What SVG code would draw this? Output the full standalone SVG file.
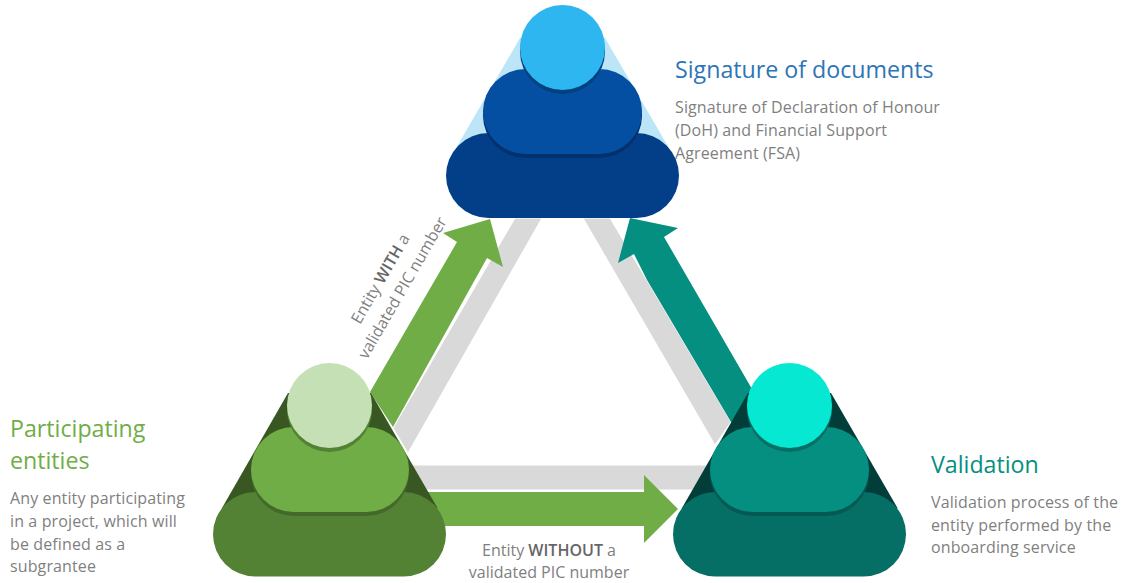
<svg xmlns="http://www.w3.org/2000/svg" width="1125" height="583" viewBox="0 0 1125 583">
<style>
text{font-family:"Open Sans","Noto Sans","Liberation Sans",sans-serif}
.body{font-size:16px;fill:#7f7f7f;letter-spacing:.12px}
.lab{font-size:16px;fill:#7f7f7f}
.head{font-size:23.200px}
.gray{fill:#d9d9d9;stroke:#fff;stroke-width:1}
.b{font-weight:600;fill:#666}
</style>
<rect width="1125" height="583" fill="#fff"/>
<g id="connectors">
<polygon class="gray" points="515,218 542,218 408,453 393,428"/>
<polygon class="gray" points="583,218 610,218 731,422 715,445"/>
<polygon class="gray" points="410,465 720,465 720,490 410,490"/>
<polygon fill="#70ad47" points="370,392 457,242 443,233 490,219 503,267 487,258 393,427"/>
<polygon fill="#058f80" points="731,422 647,280 634,254 618,263 630,218 678,228 664,237 770,420"/>
<polygon fill="#70ad47" points="420,492 644,492 644,475 678,509 644,543 644,526 420,526"/>
</g>
<g id="node-signature">
<polygon fill="#bde5f8" points="520,38 605,38 669.500,149 455.500,149"/>
<rect x="446" y="133" width="233" height="85" rx="42.500" fill="#033f88"/>
<rect x="483" y="73" width="159" height="85" rx="42.500" fill="#03316d"/>
<rect x="483" y="69" width="159" height="85" rx="42.500" fill="#054fa3"/>
<circle cx="562.500" cy="51.500" r="42.500" fill="#03407f"/>
<circle cx="562.500" cy="47.500" r="42.500" fill="#2db6f0"/>
</g>
<g id="node-participating">
<polygon fill="#385723" points="288,393 371,393 437.500,508 222,508"/>
<rect x="213" y="492" width="233" height="84.500" rx="42.250" fill="#548235"/>
<rect x="251" y="431" width="158" height="85" rx="42.500" fill="#436a2a"/>
<rect x="251" y="427" width="158" height="85" rx="42.500" fill="#70ad47"/>
<circle cx="329.500" cy="409.500" r="42.500" fill="#548235"/>
<circle cx="329.500" cy="405.500" r="42.500" fill="#c5e0b4"/>
</g>
<g id="node-validation">
<polygon fill="#023e39" points="748,393 831,393 897.500,508 682,508"/>
<rect x="673" y="492" width="233" height="84.500" rx="42.250" fill="#056f66"/>
<rect x="710" y="431" width="159" height="85" rx="42.500" fill="#045a52"/>
<rect x="710" y="427" width="159" height="85" rx="42.500" fill="#058f80"/>
<circle cx="789.500" cy="409.500" r="42.500" fill="#056f66"/>
<circle cx="789.500" cy="405.500" r="42.500" fill="#07e8d3"/>
</g>
<g id="text-signature">
<text class="head" x="675" y="78" fill="#2e75b6">Signature of documents</text>
<text class="body" x="675" y="113">Signature of Declaration of Honour</text>
<text class="body" x="675" y="136">(DoH) and Financial Support</text>
<text class="body" x="675" y="159">Agreement (FSA)</text>
</g>
<g id="text-participating">
<text class="head" x="10" y="437" fill="#70ad47">Participating</text>
<text class="head" x="10" y="469" fill="#70ad47">entities</text>
<text class="body" x="10" y="504">Any entity participating</text>
<text class="body" x="10" y="527">in a project, which will</text>
<text class="body" x="10" y="550">be defined as a</text>
<text class="body" x="10" y="572">subgrantee</text>
</g>
<g id="text-validation">
<text class="head" x="931" y="473" fill="#058f80">Validation</text>
<text class="body" x="931" y="508">Validation process of the</text>
<text class="body" x="931" y="531">entity performed by the</text>
<text class="body" x="931" y="553">onboarding service</text>
</g>
<g id="connector-labels">
<text class="lab" transform="translate(360,325) rotate(-60)">Entity <tspan class="b">WITH</tspan> a</text>
<text class="lab" transform="translate(367,360) rotate(-60)">validated PIC number</text>
<text class="lab" x="549" y="556" text-anchor="middle">Entity <tspan class="b">WITHOUT</tspan> a</text>
<text class="lab" x="549" y="578" text-anchor="middle">validated PIC number</text>
</g>
</svg>
